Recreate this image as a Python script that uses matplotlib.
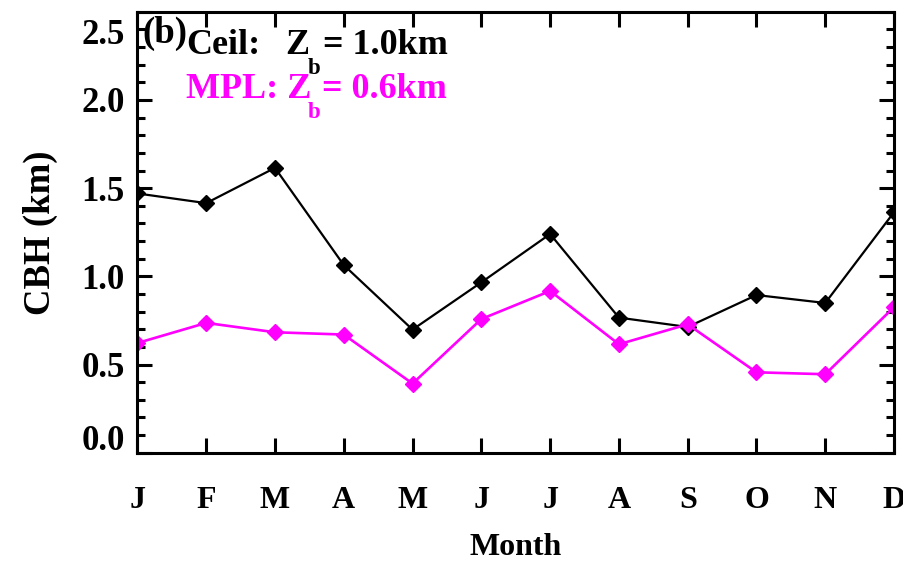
import matplotlib.pyplot as plt
import matplotlib.transforms as mtransforms
from matplotlib.ticker import MultipleLocator

plt.rcParams['font.family'] = 'Liberation Serif'
plt.rcParams['font.weight'] = 'bold'
plt.rcParams['axes.labelweight'] = 'bold'

meses = ['J', 'F', 'M', 'A', 'M', 'J', 'J', 'A', 'S', 'O', 'N', 'D']
ceil_cbh = [1.47, 1.415, 1.615, 1.064, 0.698, 0.966, 1.24, 0.766, 0.713, 0.894, 0.849, 1.364]
mpl_cbh = [0.622, 0.736, 0.683, 0.670, 0.392, 0.758, 0.917, 0.615, 0.728, 0.456, 0.445, 0.826]
yticks = [0.0, 0.5, 1.0, 1.5, 2.0, 2.5]

W, H = 904, 561
fig = plt.figure(figsize=(W / 100, H / 100), dpi=100)
ax = fig.add_axes([0.152, 0.193, 0.837, 0.786])

x = list(range(len(meses)))
ax.plot(x, ceil_cbh, color='black', lw=1.6, marker='D', ms=8)
ax.plot(x, mpl_cbh, color='#ff00ff', lw=1.9, marker='D', ms=8)

ax.set_xlim(0, 11)
ax.set_ylim(0, 2.5)
ax.set_xticks(x)
ax.set_xticklabels(meses)
ax.set_yticks(yticks)
ax.set_yticklabels(['%.1f' % v for v in yticks])
ax.yaxis.set_minor_locator(MultipleLocator(0.1))

for s in ax.spines.values():
    s.set_linewidth(2.2)
ax.tick_params(which='both', direction='in', top=True, right=True, width=2.2)
ax.tick_params(which='major', length=11)
ax.tick_params(which='minor', length=6)
ax.tick_params(axis='x', pad=24, labelsize=23)
ax.tick_params(axis='y', pad=9, labelsize=25)

# etiquetas de los extremos desplazadas hacia adentro, como en IDL
labs = ax.get_yticklabels()
labs[0].set_va('bottom')
labs[0].set_transform(labs[0].get_transform() +
                      mtransforms.ScaledTranslation(0, -0.05, fig.dpi_scale_trans))
labs[-1].set_va('top')
labs[-1].set_transform(labs[-1].get_transform() +
                       mtransforms.ScaledTranslation(0, -0.07, fig.dpi_scale_trans))

ax.set_xlabel('Month', fontsize=23, labelpad=13)
ax.set_ylabel('CBH (km)', fontsize=26.5, labelpad=17)


def texto(px, py, s, size=26, color='black', va='baseline'):
    fig.text(px / W, 1 - py / H, s, fontsize=size, color=color, va=va, ha='left')


mag = '#ff00ff'
texto(142, 33, '(b)', size=26.5, va='center')
texto(186, 54, 'Ceil:')
texto(285, 54, 'Z')
texto(308, 74, 'b', size=16.5)
texto(323, 54, '= 1.0km')
texto(186, 98, 'MPL: Z', color=mag)
texto(308, 118, 'b', size=16.5, color=mag)
texto(322, 98, '= 0.6km', color=mag)

fig.savefig('out.png', dpi=100)
